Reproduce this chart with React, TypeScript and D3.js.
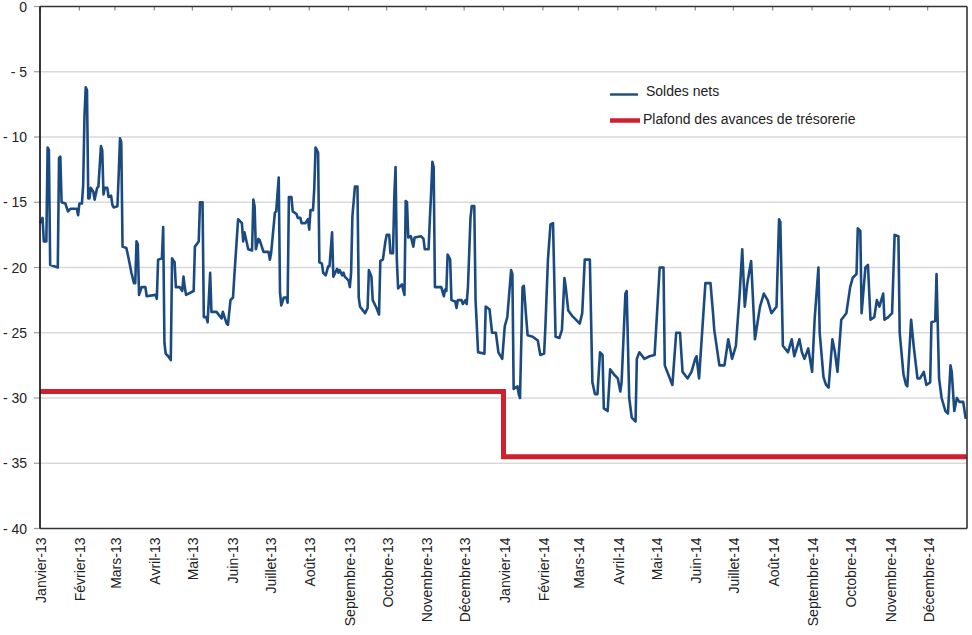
import React from "react";
import * as d3 from "d3";

// Day index counted from 1 January 2013, value in billions
const soldes2013: [number, number][] = [
  [0, -16.6], [2, -16.2], [3, -18.0], [5, -18.0], [6, -10.8], [7, -11.0], [8, -19.8], [14, -20.0],
  [15, -11.6], [16, -11.5], [17, -15.0], [20, -15.1], [22, -15.7], [24, -15.5], [29, -15.5], [30, -16.0],
  [31, -15.1], [33, -15.1], [34, -13.7], [35, -8.5], [36, -6.2], [37, -6.4], [38, -14.7], [39, -14.7],
  [40, -13.9], [42, -14.2], [43, -14.8], [45, -13.9], [46, -13.8], [48, -10.7], [49, -11.0], [50, -14.4],
  [51, -13.9], [53, -13.9], [54, -14.6], [56, -14.5], [57, -15.2], [58, -15.4], [61, -15.3], [62, -12.8],
  [63, -10.1], [64, -10.4], [65, -18.4], [68, -18.5], [70, -19.4], [72, -20.4], [74, -21.2], [75, -21.2],
  [76, -18.0], [77, -18.2], [78, -22.1], [80, -21.5], [83, -21.5], [84, -22.2], [91, -22.1], [92, -22.4],
  [93, -19.4], [96, -19.3], [97, -16.9], [98, -25.8], [99, -26.6], [101, -26.8], [103, -27.1], [104, -19.3],
  [106, -19.6], [107, -21.5], [110, -21.5], [112, -21.8], [113, -20.7], [114, -21.5], [115, -22.1], [121, -21.8],
  [122, -18.4], [125, -18.0], [126, -15.0], [128, -15.0], [129, -23.8], [131, -23.8], [132, -24.2], [134, -20.4],
  [135, -23.4], [139, -23.4], [143, -23.9], [144, -23.4], [147, -24.3], [148, -24.4], [150, -22.5], [152, -22.3],
  [153, -20.7], [156, -16.3], [159, -16.6], [160, -18.0], [161, -17.3], [164, -18.6], [167, -18.7], [168, -14.8],
  [169, -15.3], [170, -18.6], [172, -17.8], [173, -17.9], [176, -18.8], [180, -18.8], [181, -19.4], [182, -18.9],
  [185, -15.8], [186, -15.7], [188, -13.1], [189, -21.9], [190, -22.9], [192, -22.3], [194, -22.3], [195, -22.7],
  [196, -14.6], [198, -14.6], [199, -15.7], [202, -15.9], [203, -16.2], [205, -16.2], [206, -16.6], [209, -16.6],
  [211, -16.3], [212, -17.1], [213, -15.6], [215, -15.6], [216, -13.9], [217, -10.8], [219, -11.2], [220, -19.6],
  [222, -19.7], [223, -20.4], [225, -20.6], [227, -19.9], [228, -19.9], [230, -17.3], [231, -20.7], [234, -20.1],
  [235, -20.4], [236, -20.2], [238, -20.6], [239, -20.4], [240, -20.7], [243, -21.0], [244, -21.5], [245, -20.4],
  [246, -16.1], [248, -13.8], [250, -13.8], [251, -22.3], [252, -23.0], [256, -23.5], [258, -23.1], [259, -20.2],
  [261, -20.7], [262, -22.5], [265, -23.1], [267, -23.6], [268, -19.5], [270, -19.4], [272, -18.0], [273, -17.5],
  [275, -17.5], [276, -18.9], [278, -18.9], [279, -14.6], [280, -12.3], [281, -19.4], [282, -21.6], [285, -21.3],
  [287, -22.1], [288, -14.9], [289, -15.0], [290, -17.7], [292, -17.6], [294, -18.4], [295, -17.7], [300, -17.6],
  [302, -17.8], [303, -18.6], [306, -18.6], [307, -16.3], [308, -14.3], [309, -11.9], [310, -12.3], [311, -21.5],
  [316, -21.5], [318, -22.2], [319, -21.7], [320, -21.8], [321, -19.0], [323, -19.4], [324, -22.5], [327, -22.6],
  [328, -23.1], [329, -22.5], [332, -22.5], [333, -22.8], [335, -22.5], [336, -22.8], [337, -21.5], [339, -16.2],
  [340, -15.3], [342, -15.3], [343, -22.5], [345, -26.5], [350, -26.6], [351, -23.0], [354, -23.2], [356, -25.0],
  [359, -25.0], [361, -26.5], [364, -27.0],
];

const soldes2014: [number, number][] = [
  [366, -24.5], [368, -23.8], [371, -20.2], [372, -20.5], [373, -29.3], [376, -29.1], [377, -29.7], [378, -30.0],
  [380, -21.5], [381, -21.4], [383, -24.0], [384, -25.2], [388, -25.3], [392, -25.6], [394, -26.7], [397, -26.6],
  [398, -24.5], [400, -19.4], [402, -16.7], [404, -16.6], [406, -25.3], [409, -25.4], [411, -24.8], [413, -20.8],
  [414, -21.5], [416, -23.3], [419, -23.7], [422, -24.0], [425, -24.3], [427, -23.5], [429, -19.4], [433, -19.4],
  [435, -28.8], [437, -29.7], [439, -29.7], [441, -26.5], [443, -26.7], [444, -30.8], [447, -31.0], [449, -27.8],
  [452, -28.2], [455, -28.5], [457, -29.5], [458, -28.8], [461, -22.0], [462, -21.8], [464, -30.0], [466, -31.5],
  [469, -31.8], [470, -27.0], [472, -26.5], [476, -27.0], [480, -26.8], [484, -26.7], [488, -20.0], [491, -20.0],
  [492, -27.5], [496, -28.5], [498, -29.0], [501, -25.0], [504, -25.0], [506, -28.0], [510, -28.5], [513, -28.0],
  [516, -27.0], [517, -26.8], [519, -28.5], [524, -21.2], [528, -21.2], [530, -23.5], [531, -24.8], [535, -27.5],
  [539, -27.5], [542, -25.5], [545, -27.0], [548, -26.0], [551, -22.0], [553, -18.6], [555, -23.0], [557, -21.2],
  [560, -19.5], [563, -25.5], [567, -23.0], [570, -22.0], [573, -22.5], [576, -23.5], [580, -23.0], [582, -16.3],
  [583, -16.5], [585, -26.0], [589, -26.5], [592, -25.5], [594, -26.8], [598, -25.5], [600, -26.5], [602, -27.0],
  [605, -26.2], [608, -28.0], [610, -24.0], [613, -20.0], [614, -25.0], [617, -28.4], [619, -29.0], [621, -29.2],
  [624, -25.5], [626, -26.5], [628, -28.0], [631, -24.0], [635, -23.5], [638, -21.5], [640, -20.8], [643, -20.5],
  [644, -17.0], [646, -17.2], [647, -23.5], [650, -20.0], [652, -19.8], [654, -24.0], [657, -23.8], [659, -22.5],
  [661, -23.0], [664, -22.0], [665, -24.0], [668, -23.8], [671, -23.5], [673, -17.5], [676, -17.6], [677, -25.0],
  [680, -28.2], [682, -29.0], [683, -29.1], [686, -24.0], [688, -26.0], [691, -28.5], [693, -28.5], [696, -28.0],
  [698, -29.0], [701, -28.8], [702, -24.2], [705, -24.1], [706, -20.5], [708, -28.5], [710, -30.0], [713, -31.0],
  [715, -31.2], [717, -27.5], [718, -28.0], [720, -31.0], [722, -30.0], [724, -30.3], [727, -30.3], [729, -31.6],
];

const plafondDates = ["2013-01-01", "2014-01-01", "2015-01-01"];
const plafondValues = [-29.5, -34.5, -34.5];

const monthLabels = [
  "Janvier-13", "Février-13", "Mars-13", "Avril-13", "Mai-13", "Juin-13", "Juillet-13", "Août-13",
  "Septembre-13", "Octobre-13", "Novembre-13", "Décembre-13",
  "Janvier-14", "Février-14", "Mars-14", "Avril-14", "Mai-14", "Juin-14", "Juillet-14", "Août-14",
  "Septembre-14", "Octobre-14", "Novembre-14", "Décembre-14",
];

const yTicks = [0, -5, -10, -15, -20, -25, -30, -35, -40];

const seriesNames = ["Soldes nets", "Plafond des avances de trésorerie"];

const W = 972;
const H = 635;
const M = { left: 40, right: 5, top: 6.5, bottom: 106.5 };
const FONT = "'Liberation Sans', Arial, Helvetica, sans-serif";
const BLUE = "#1b4a80";
const RED = "#d0202e";

export default function App() {
  const x = d3
    .scaleTime()
    .domain([new Date(2013, 0, 1), new Date(2015, 0, 1)])
    .range([M.left, W - M.right]);
  const y = d3.scaleLinear().domain([-40, 0]).range([H - M.bottom, M.top]);

  const dayToDate = (d: number) => new Date(2013, 0, 1 + d);
  const soldes = [...soldes2013, ...soldes2014].map(([d, v]) => ({ date: dayToDate(d), v }));
  const plafond = plafondDates.map((s, i) => ({ date: new Date(s + "T00:00:00"), v: plafondValues[i] }));

  const line = d3
    .line<{ date: Date; v: number }>()
    .x((d) => x(d.date))
    .y((d) => y(d.v))
    .curve(d3.curveLinear);
  const step = d3
    .line<{ date: Date; v: number }>()
    .x((d) => x(d.date))
    .y((d) => y(d.v))
    .curve(d3.curveStepAfter);

  const months = monthLabels.map((lab, i) => ({ lab, date: new Date(2013, i, 1) }));
  const x0 = M.left;
  const x1 = W - M.right;
  const yTop = y(0);
  const yBot = y(-40);

  return (
    <svg
      width={W}
      height={H}
      style={{ position: "absolute", left: 0, top: 0, background: "#fff" }}
      fontFamily={FONT}
    >
      {/* grid */}
      {yTicks
        .filter((t) => t !== 0 && t !== -40)
        .map((t) => (
          <line key={"g" + t} x1={x0} x2={x1} y1={y(t)} y2={y(t)} stroke="#d9d9d9" strokeWidth={1.4} />
        ))}
      {/* y ticks and labels */}
      {yTicks.map((t) => (
        <g key={"y" + t}>
          <line x1={x0 - 6} x2={x0} y1={y(t)} y2={y(t)} stroke="#9a9a9a" strokeWidth={1.2} />
          <text x={27} y={y(t)} dy="0.36em" textAnchor="end" fontSize={14} fill="#222">
            {t === 0 ? "0" : "- " + Math.abs(t)}
          </text>
        </g>
      ))}
      {/* top ticks for months */}
      {months.map((m) => (
        <line key={"t" + m.lab} x1={x(m.date)} x2={x(m.date)} y1={yTop} y2={yTop + 4} stroke="#8a8a8a" strokeWidth={1.2} />
      ))}
      {/* series */}
      <path d={step(plafond) || ""} fill="none" stroke={RED} strokeWidth={5} />
      <path d={line(soldes) || ""} fill="none" stroke={BLUE} strokeWidth={2.6} strokeLinejoin="round" />
      {/* frame */}
      <line x1={x0} x2={x1} y1={yTop} y2={yTop} stroke="#333" strokeWidth={1.6} />
      <line x1={x0} x2={x1} y1={yBot} y2={yBot} stroke="#333" strokeWidth={1.6} />
      <line x1={x0} x2={x0} y1={yTop} y2={yBot} stroke="#222" strokeWidth={1.8} />
      <line x1={x1} x2={x1} y1={yTop} y2={yBot} stroke="#333" strokeWidth={1.6} />
      {/* x labels */}
      {months.map((m) => (
        <text
          key={"l" + m.lab}
          transform={`translate(${x(m.date) + 1},${yBot + 9}) rotate(-90)`}
          dy="0.36em"
          textAnchor="end"
          fontSize={14}
          fill="#222"
        >
          {m.lab}
        </text>
      ))}
      {/* legend */}
      <g>
        <line x1={610} x2={638} y1={94.5} y2={94.5} stroke={BLUE} strokeWidth={2.4} />
        <text x={646} y={96} fontSize={14} fill="#222">{seriesNames[0]}</text>
        <line x1={610} x2={640} y1={120.5} y2={120.5} stroke={RED} strokeWidth={4.5} />
        <text x={643} y={123.5} fontSize={14} fill="#222">{seriesNames[1]}</text>
      </g>
    </svg>
  );
}
